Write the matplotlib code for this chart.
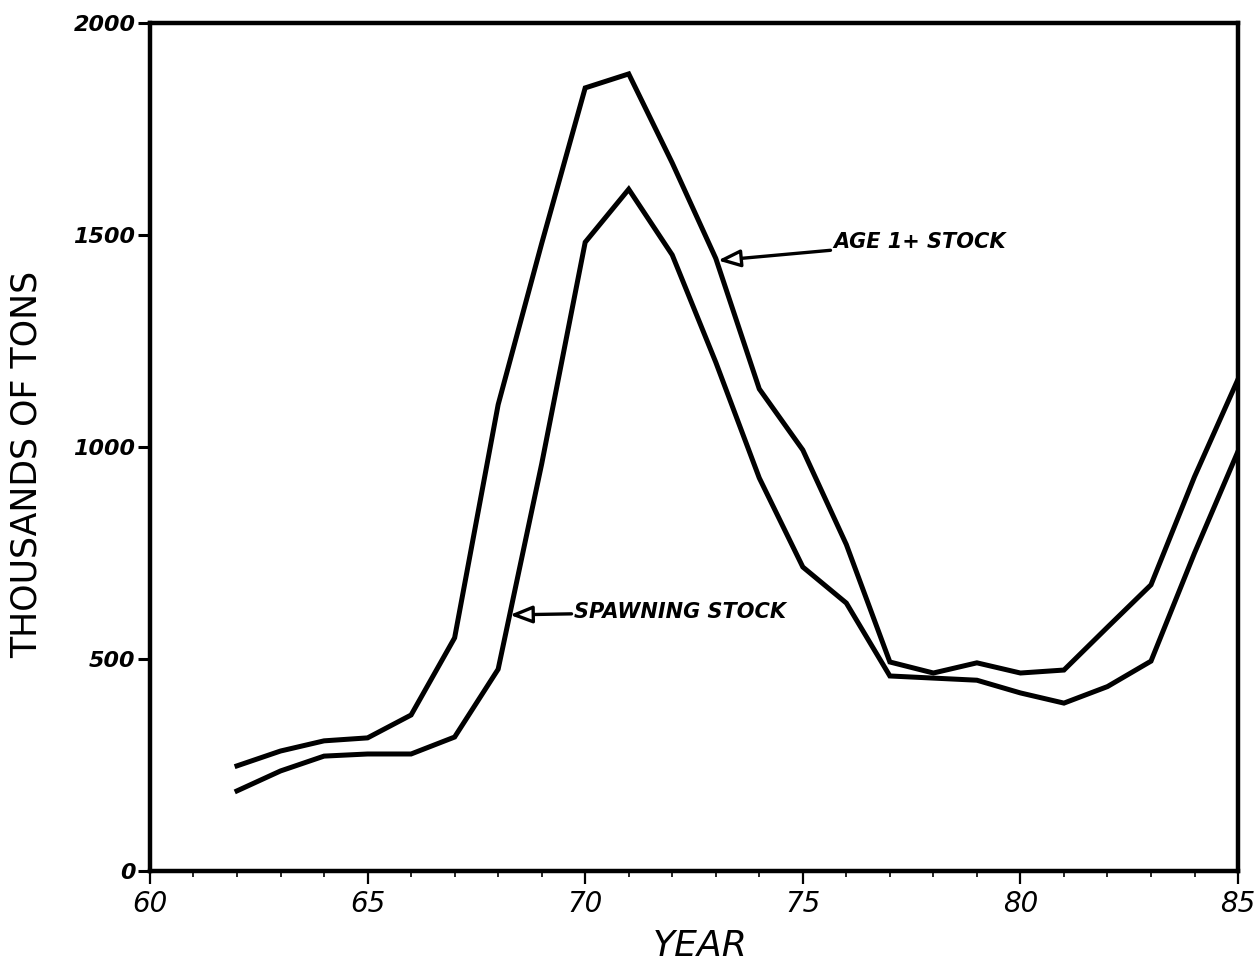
import numpy as np
import matplotlib
matplotlib.use("Agg")
import matplotlib.pyplot as plt
from matplotlib.ticker import MultipleLocator

# anchovy biomass estimates, thousands of tons
years = [62, 63, 64, 65, 66, 67, 68, 69, 70, 71, 72, 73,
         74, 75, 76, 77, 78, 79, 80, 81, 82, 83, 84, 85]
age1_stock = [248, 283, 307, 314, 368, 550, 1100, 1480, 1847, 1880, 1670, 1445,
              1137, 993, 770, 493, 467, 491, 467, 474, 575, 675, 930, 1160]
spawning_stock = [189, 236, 271, 276, 276, 316, 476, 960, 1483, 1608, 1453, 1200,
                  927, 717, 632, 460, 455, 450, 420, 396, 435, 495, 750, 990]

y_ticks = [0, 500, 1000, 1500, 2000]
x_ticks = [60, 65, 70, 75, 80, 85]

fig = plt.figure(figsize=(12.56, 9.72), dpi=100)
ax = fig.add_axes([0.1194, 0.1039, 0.8663, 0.8724])

ax.plot(years, age1_stock, color="black", lw=3.6, solid_joinstyle="miter")
ax.plot(years, spawning_stock, color="black", lw=3.6, solid_joinstyle="miter")

ax.set_xlim(60, 85)
ax.set_ylim(0, 2000)

for side in ["left", "right", "top", "bottom"]:
    ax.spines[side].set_linewidth(3.2)

ax.set_xticks(x_ticks)
ax.xaxis.set_minor_locator(MultipleLocator(1))
ax.set_yticks(y_ticks)
ax.tick_params(axis="x", which="major", direction="out", length=9, width=1.6, pad=5)
ax.tick_params(axis="x", which="minor", direction="out", length=4, width=1.2)
ax.tick_params(axis="y", which="major", direction="out", length=9, width=2.2, pad=1.5)

ax.set_xticklabels([str(t) for t in x_ticks], fontsize=20, style="italic",
                   family="DejaVu Sans")
ax.set_yticklabels([str(t) for t in y_ticks], fontsize=16, style="italic",
                   weight="bold", family="DejaVu Sans")

ax.set_xlabel("YEAR", fontsize=26, style="italic", family="DejaVu Sans")
ax.xaxis.set_label_coords(0.5055, -0.068)
ax.set_ylabel("THOUSANDS OF TONS", fontsize=25, family="DejaVu Sans")
ax.yaxis.set_label_coords(-0.113, 0.479)
ax.yaxis.label.set_va("center")

arrow_kw = dict(arrowstyle="-|>,head_length=0.9,head_width=0.35",
                color="black", lw=2.4, fc="white", shrinkA=0, shrinkB=0)

ax.annotate("AGE 1+ STOCK", xy=(73.05, 1440), xytext=(75.7, 1483),
            fontsize=15, style="italic", weight="bold", va="center", ha="left",
            arrowprops=arrow_kw)
ax.annotate("SPAWNING STOCK", xy=(68.27, 604), xytext=(69.75, 611),
            fontsize=15, style="italic", weight="bold", va="center", ha="left",
            arrowprops=arrow_kw)

fig.savefig("out.png", dpi=100)
